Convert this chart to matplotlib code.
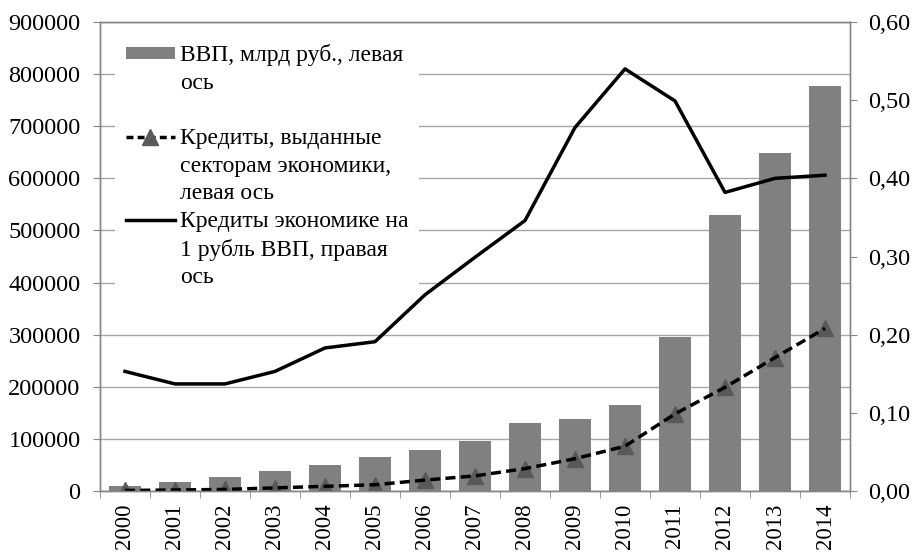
import matplotlib
matplotlib.use('Agg')
import matplotlib.pyplot as plt
import numpy as np
from matplotlib.lines import Line2D
from matplotlib.patches import Patch
from matplotlib.ticker import FuncFormatter, FixedLocator

# data
years = [str(y) for y in range(2000, 2015)]
gdp = [9600, 17800, 26900, 37800, 50500, 64600, 79300, 96500,
       130000, 138000, 164500, 296000, 530000, 648000, 777000]
credits = [1000, 2000, 3000, 6000, 9000, 12000, 21000, 29000,
           43000, 62000, 86000, 148000, 199000, 256000, 312000]
ratio = [0.153, 0.137, 0.137, 0.153, 0.183, 0.191, 0.251, 0.299,
         0.346, 0.465, 0.540, 0.499, 0.382, 0.400, 0.404]

labels = ['ВВП, млрд руб., левая', 'ось', '',
          'Кредиты, выданные', 'секторам экономики,', 'левая ось',
          'Кредиты экономике на', '1 рубль ВВП, правая', 'ось']

BAR = '#808080'
MARK = '#595959'
GRID = '#a6a6a6'
SPINE = '#868686'

plt.rcParams['font.family'] = ['Liberation Serif', 'DejaVu Serif']
plt.rcParams['font.size'] = 17.5

fig = plt.figure(figsize=(9.13, 5.54), dpi=100)
ax = fig.add_axes([0.1095, 0.1137, 0.8215, 0.8466])
x = np.arange(len(years))

ax.bar(x, gdp, width=0.65, color=BAR, zorder=2)
ax.plot(x, credits, ls='none', marker='^', ms=11, mfc=MARK, mec=MARK, zorder=3)
ax.plot(x, credits, color='black', ls=(0, (2.9, 1.5)), lw=2.5, zorder=4)

ax.set_xlim(-0.5, len(years) - 0.5)
ax.set_ylim(0, 900000)
ax.set_yticks(np.arange(0, 900001, 100000))
ax.yaxis.set_major_formatter(FuncFormatter(lambda v, p: f'{int(v)}'))
ax.yaxis.grid(True, color=GRID, lw=1)
ax.set_axisbelow(True)

ax.set_xticks(x)
ax.set_xticklabels(years, rotation=90, fontsize=16.5)
ax.xaxis.set_minor_locator(FixedLocator(np.arange(-0.5, len(years), 1.0)))
ax.tick_params(axis='x', which='major', length=0, pad=9)
ax.tick_params(axis='x', which='minor', length=5, color=SPINE, direction='out')
ax.tick_params(axis='y', length=5, color=SPINE, pad=9, direction='out')

ax2 = ax.twinx()
ax2.plot(x, ratio, color='black', lw=2.5, zorder=5)
ax2.set_ylim(0, 0.6)
ax2.set_yticks(np.arange(0, 0.61, 0.1))
ax2.yaxis.set_major_formatter(FuncFormatter(lambda v, p: f'{v:.2f}'.replace('.', ',')))
ax2.tick_params(axis='y', length=5, color=SPINE, pad=8, direction='out')

for a in (ax, ax2):
    for s in a.spines.values():
        s.set_color(SPINE)
        s.set_linewidth(1)

# legend sits on the left axes so the ratio line stays drawn over it
blank = Line2D([], [], ls='none')
handles = [Patch(facecolor=BAR, edgecolor='none'), blank, blank,
           Line2D([], [], color='black', ls=(0, (2.0, 1.2)), lw=2.5,
                  marker='^', ms=11, mfc=MARK, mec=MARK), blank, blank,
           Line2D([], [], color='black', lw=2.5), blank, blank]
leg = ax.legend(handles, labels, loc='upper left', bbox_to_anchor=(0.02, 0.975),
                borderaxespad=0, frameon=True, framealpha=1, fancybox=False,
                handlelength=2.1, handleheight=0.45, handletextpad=0.2,
                labelspacing=0.28, borderpad=0.45, fontsize=17)
leg.set_zorder(6)
leg.get_frame().set_facecolor('white')
leg.get_frame().set_edgecolor('none')

fig.savefig('out.png', dpi=100)
